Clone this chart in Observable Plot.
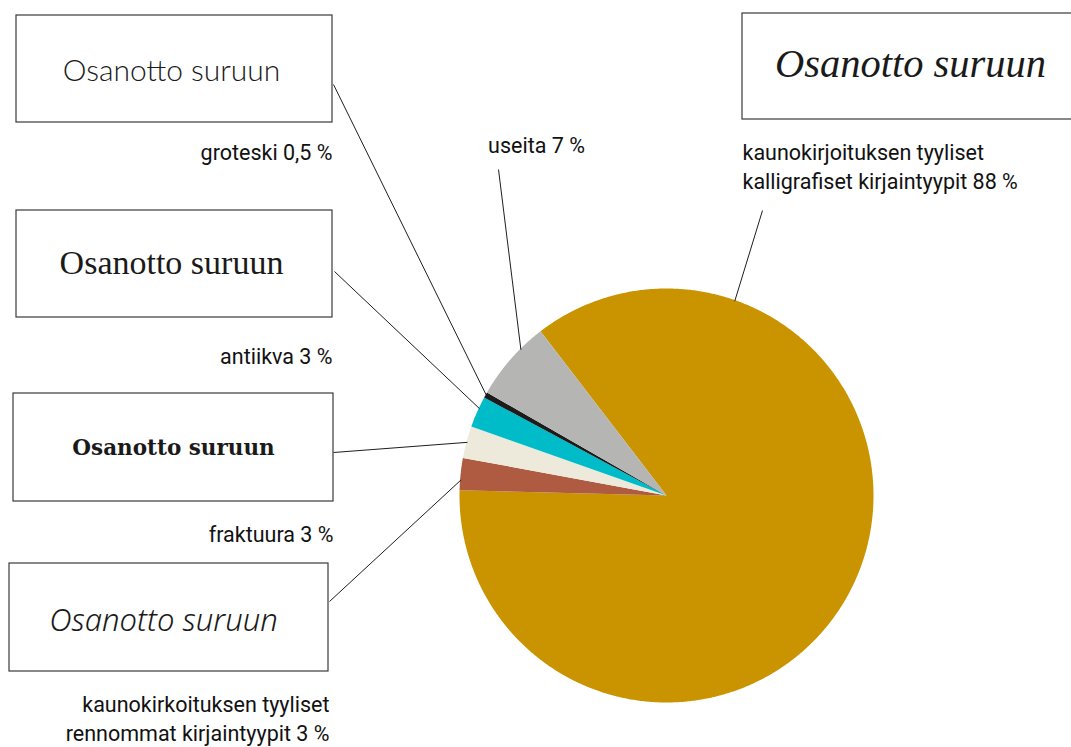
<!DOCTYPE html>
<html><head><meta charset="utf-8">
<script src="https://cdn.jsdelivr.net/npm/d3@7"></script>
<script src="https://cdn.jsdelivr.net/npm/@observablehq/plot@0.6"></script>
<style>html,body{margin:0;padding:0;background:#fff;overflow:hidden}</style>
</head><body><div id="chart"></div>
<script>
// ---- data (clockwise order from the top-right boundary) ----
const categories = ["kalligrafiset", "rennommat", "fraktuura", "antiikva", "groteski", "useita"];
const values = [86, 2.5, 2.5, 2.45, 0.45, 6.3];          // slice sizes
const labelTexts = [
  "kaunokirjoituksen tyyliset\nkalligrafiset kirjaintyypit 88 %",
  "kaunokirkoituksen tyyliset\nrennommat kirjaintyypit 3 %",
  "fraktuura 3 %",
  "antiikva 3 %",
  "groteski 0,5 %",
  "useita 7 %"
];
const colors = ["#C99400", "#AE5B41", "#EDEADC", "#00BCC8", "#1C1C1C", "#B5B5B4"];
const sampleText = "Osanotto suruun";

// ---- layout ----
const W = 1071, H = 747;
const cx = 666, cy = 495, R = 207;
const startDeg = -37.5;
// label layout per category: text position/anchor, leader start, leader anchor fraction within slice
const labelLayout = [
  {x: 742, y: 165, anchor: "start", lx: 762, ly: 210, frac: 0.184},
  {x: 329, y: 717, anchor: "end",   lx: 329, ly: 601, frac: 0.32},
  {x: 333, y: 532, anchor: "end",   lx: 333, ly: 452, frac: 0.5},
  {x: 332, y: 354, anchor: "end",   lx: 334, ly: 271, frac: 0.62},
  {x: 332, y: 150, anchor: "end",   lx: 333, ly: 84,  frac: 0.5},
  {x: 536, y: 143, anchor: "middle",lx: 498, ly: 169, frac: 0.67}
];
const boxLayout = [
  {x1: 742, y1: 13,  x2: 1080, y2: 119, tx: 910, ty: 64,  font: "'Liberation Serif', serif", size: 40.5, style: "italic", weight: 400},
  {x1: 9,   y1: 563, x2: 328,  y2: 671, tx: 163, ty: 621, font: "'Noto Sans', sans-serif", size: 31, style: "italic", weight: 300},
  {x1: 13,  y1: 393, x2: 333,  y2: 501, tx: 173, ty: 448, font: "'DejaVu Serif', serif", size: 21.5, style: "normal", weight: 700},
  {x1: 16,  y1: 210, x2: 332,  y2: 317, tx: 171, ty: 263, font: "'Liberation Serif', serif", size: 34, style: "normal", weight: 400},
  {x1: 16,  y1: 15,  x2: 332,  y2: 122, tx: 171, ty: 71,  font: "Lato, sans-serif", size: 30, style: "normal", weight: 300},
  null
];

// ---- geometry from values ----
const rad = Math.PI / 180;
const pie = d3.pie().sort(null).value(d => d)
  .startAngle(startDeg * rad).endAngle(startDeg * rad + 2 * Math.PI)(values);
const pt = (a, r = R) => [cx + r * Math.sin(a), cy - r * Math.cos(a)];

const slicePts = [];
pie.forEach((s, i) => {
  const key = categories[i];
  slicePts.push({key, x: cx, y: cy});
  const n = Math.max(2, Math.ceil((s.endAngle - s.startAngle) / (0.4 * rad)));
  for (let k = 0; k <= n; k++) {
    const a = s.startAngle + (s.endAngle - s.startAngle) * k / n;
    const [x, y] = pt(a);
    slicePts.push({key, x, y});
  }
});

const leaders = pie.map((s, i) => {
  const L = labelLayout[i];
  const a = s.startAngle + (s.endAngle - s.startAngle) * L.frac;
  const [x2, y2] = pt(a, R - 1);
  return {x1: L.lx, y1: L.ly, x2, y2};
});

const labels = categories.map((c, i) => ({key: c, text: labelTexts[i], ...labelLayout[i]}));
const boxes = boxLayout.map((b, i) => b && ({key: categories[i], ...b})).filter(Boolean);

const labelFont = "Roboto, 'Liberation Sans', sans-serif";

const marks = [
  Plot.line(slicePts, {x: "x", y: "y", z: "key", fill: "key", stroke: "none"}),
  Plot.link(leaders, {x1: "x1", y1: "y1", x2: "x2", y2: "y2", stroke: "#1e1e1e", strokeWidth: 1}),
  Plot.rect(boxes, {x1: "x1", x2: "x2", y1: "y1", y2: "y2", fill: "white", stroke: "#3a3a3a", strokeWidth: 1.2}),
  ...boxes.map(b => Plot.text([b], {x: "tx", y: "ty", text: () => sampleText, fill: "#1a1a1a",
     fontFamily: b.font, fontSize: b.size, fontStyle: b.style, fontWeight: b.weight, textAnchor: "middle", lineAnchor: "middle"})),
  ...["start", "end", "middle"].map(anc => Plot.text(labels.filter(l => l.anchor === anc), {
     x: "x", y: "y", text: "text", textAnchor: anc, lineAnchor: "middle", lineHeight: 1.33,
     fontFamily: labelFont, fontSize: 21.5, fontWeight: 400, fill: "#111"}))
];

const chart = Plot.plot({
  width: W, height: H,
  margin: 0,
  x: {domain: [0, W], range: [0, W], axis: null},
  y: {domain: [0, H], range: [0, H], axis: null},
  color: {domain: categories, range: colors},
  style: {background: "white"},
  marks
});
document.getElementById("chart").appendChild(chart);
</script>
</body></html>
